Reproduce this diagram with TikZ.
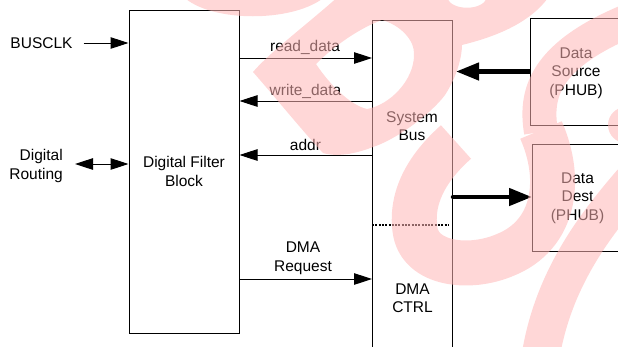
\documentclass[tikz,border=0pt]{standalone}
\usepackage{fontspec}
\setmainfont{Liberation Sans}
\usetikzlibrary{arrows.meta}
\definecolor{wm}{RGB}{255,182,182}
\begin{document}
\begin{tikzpicture}[x=1pt,y=-1pt,
  box/.style={draw, line width=1pt, inner sep=0pt},
  lbl/.style={inner sep=0pt, align=center, font=\fontsize{15.5}{18.5}\selectfont},
  arr/.style={line width=1pt, -{Triangle[length=18pt,width=11.5pt]}},
  biarr/.style={line width=1pt, {Triangle[length=18pt,width=11.5pt]}-{Triangle[length=18pt,width=11.5pt]}},
  bigarr/.style={line width=4.5pt, -{Triangle[length=23pt,width=17pt]}},
  dotline/.style={line width=1.5pt, dash pattern=on 2pt off 1.3pt},
  wmband/.style={draw=wm, line join=round}
]
\path[use as bounding box] (0,0) rectangle (618,346);
\clip (0,0) rectangle (618,346);

% blocks
\node[box, minimum width=110pt, minimum height=323pt, lbl] (dfb) at (184,171.5) {Digital Filter\\Block};
\node[box, anchor=north west, minimum width=80pt, minimum height=400pt] (sb) at (372,20) {};
\node[box, anchor=north west, minimum width=120pt, minimum height=107pt] (ds) at (530,18) {};
\node[box, anchor=north west, minimum width=120pt, minimum height=106.5pt] (dd) at (532,144) {};

% texts
\node[lbl] (busclk) at (41.5,43) {BUSCLK};
\node[lbl, align=right, anchor=east] (dr) at (63,166) {Digital\\Routing};
\node[lbl] (rdl) at (305,47.5) {read\_data};
\node[lbl] (wdl) at (305.5,91.5) {write\_data};
\node[lbl] (adl) at (305.5,145) {addr};
\node[lbl] (dmal) at (303,258.5) {DMA\\Request};
\node[lbl] (sbl) at (412,126) {System\\Bus};
\node[lbl] (dmac) at (412.5,298) {DMA\\CTRL};
\node[lbl] (dsl) at (576,73) {Data\\Source\\(PHUB)};
\node[lbl] (ddl) at (577.5,198) {Data\\Dest\\(PHUB)};

% rows
\coordinate (yR) at (0,58);
\coordinate (yW) at (0,101);
\coordinate (yA) at (0,155);
\coordinate (yD) at (0,279);
\coordinate (yS) at (0,71.5);
\coordinate (yT) at (0,197);
\coordinate (yDR) at (0,164);
\coordinate (dotE) at (448,225);

% connectors
\draw[arr] ([xshift=11pt]busclk.east) -- (dfb.west |- busclk);
\draw[biarr] ([xshift=12pt,yshift=2pt]dr.east) -- (dfb.west |- yDR);
\draw[arr] (dfb.east |- yR) -- (sb.west |- yR);
\draw[arr] (sb.west |- yW) -- (dfb.east |- yW);
\draw[arr] (sb.west |- yA) -- (dfb.east |- yA);
\draw[arr] (dfb.east |- yD) -- (sb.west |- yD);
\draw[bigarr, shorten >=3pt] (ds.west |- yS) -- (sb.east |- yS);
\draw[bigarr, line cap=round] (sb.east |- yT) -- (dd.west |- yT);
\draw[dotline] (sb.west |- dotE) -- (dotE);

% watermark
\begin{scope}[transparency group, opacity=0.55]
  % upper loop with notch and bite
  \fill[wm, even odd rule]
     (340,-5) .. controls (310,22) and (270,52) .. (253,72)
     .. controls (275,97) and (300,128) .. (323,153)
     .. controls (340,158) and (360,152) .. (373,147)
     .. controls (395,140) and (430,115) .. (445,95)
     .. controls (458,75) and (462,55) .. (462,45)
     .. controls (490,38) and (530,25) .. (550,-5) -- cycle
     (316,64) .. controls (335,45) and (360,28) .. (382,20)
     .. controls (400,25) and (415,40) .. (414,55)
     .. controls (414,80) and (390,105) .. (367,109)
     .. controls (350,105) and (330,85) .. (316,64) -- cycle
     (447,-2) .. controls (452,11) and (482,11) .. (487,-2) -- cycle;
  % top-left arc
  \fill[wm] (186,-1) .. controls (215,22) and (290,22) .. (322,-1) -- cycle;
  % lower loop
  \draw[wmband, line width=45pt] (456,142) .. controls (430,165) and (410,195) .. (415,230)
     .. controls (420,265) and (470,270) .. (505,255)
     .. controls (555,235) and (563,180) .. (541,130);
  \draw[wmband, line width=34pt] (541,132) .. controls (535,95) and (542,55) .. (635,18);
  % right diagonal band
  \draw[wmband, line width=38pt] (632,182) .. controls (595,225) and (552,280) .. (540,360);
  \fill[wm] (626,125) circle[radius=18pt];
\end{scope}
\end{tikzpicture}
\end{document}
